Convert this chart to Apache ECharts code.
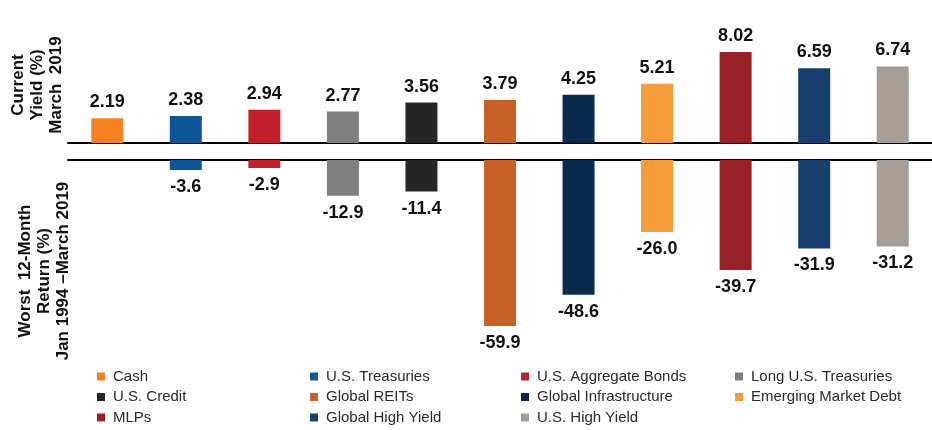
<!DOCTYPE html>
<html>
<head>
<meta charset="utf-8">
<script src="https://cdn.jsdelivr.net/npm/echarts@6/dist/echarts.min.js"></script>
<style>
html,body{margin:0;padding:0;background:#fff;}
#chart{width:932px;height:430px;}
</style>
</head>
<body>
<div id="chart"></div>
<script>
const categories = ['Cash','U.S. Treasuries','U.S. Aggregate Bonds','Long U.S. Treasuries','U.S. Credit','Global REITs','Global Infrastructure','Emerging Market Debt','MLPs','Global High Yield','U.S. High Yield'];
const currentYield = [2.19, 2.38, 2.94, 2.77, 3.56, 3.79, 4.25, 5.21, 8.02, 6.59, 6.74];
const worstReturn = [null, -3.6, -2.9, -12.9, -11.4, -59.9, -48.6, -26.0, -39.7, -31.9, -31.2];
const colors = ['#F58220','#0D5697','#C1202A','#808080','#262626','#C86028','#0B2A4C','#F69B3A','#9A2027','#163F6E','#A69D97'];
const topTitle = 'Current\nYield (%)\nMarch  2019';
const bottomTitle = 'Worst  12-Month\nReturn (%)\nJan 1994 \u2013March 2019';

const FONT = '"Liberation Sans", Arial, sans-serif';
const chart = echarts.init(document.getElementById('chart'));

const series = [];
categories.forEach((cat, i) => {
  series.push({
    name: cat, type: 'bar', xAxisIndex: 0, yAxisIndex: 0,
    barWidth: 32, barGap: '-100%',
    data: categories.map((c, j) => j === i ? currentYield[i] : '-'),
    itemStyle: { color: colors[i] },
    label: { show: true, position: 'top', distance: 7, fontFamily: FONT, fontSize: 18, fontWeight: 'bold', color: '#111',
      formatter: p => Number(p.value).toFixed(2) }
  });
  series.push({
    name: cat, type: 'bar', xAxisIndex: 1, yAxisIndex: 1,
    barWidth: 32, barGap: '-100%',
    data: categories.map((c, j) => (j === i && worstReturn[i] !== null) ? worstReturn[i] : '-'),
    itemStyle: { color: colors[i] },
    label: { show: true, position: 'bottom', distance: 8, fontFamily: FONT, fontSize: 18, fontWeight: 'bold', color: '#111',
      formatter: p => Number(p.value).toFixed(1) }
  });
});

const colLeft = [97, 310, 521, 735];
const legends = colLeft.map((left, k) => ({
  orient: 'vertical', left: left, top: 369, padding: 0,
  itemWidth: 8, itemHeight: 8, itemGap: 5.5, icon: 'rect',
  data: categories.filter((c, j) => j % 4 === k),
  textStyle: { fontFamily: FONT, fontSize: 15, color: '#2a2a2a', padding: [0, 0, 0, 3] }
}));

const axisLine = { show: true, onZero: false, lineStyle: { color: '#000', width: 2 } };

chart.setOption({
  animation: false,
  backgroundColor: '#fff',
  textStyle: { fontFamily: FONT },
  legend: legends,
  grid: [
    { left: 68, width: 873, top: 29.5, height: 113.5 },
    { left: 68, width: 873, top: 160, height: 194 }
  ],
  xAxis: [
    { type: 'category', gridIndex: 0, data: categories, position: 'bottom', axisLine: axisLine, axisTick: { show: false }, axisLabel: { show: false }, splitLine: { show: false } },
    { type: 'category', gridIndex: 1, data: categories, position: 'top', axisLine: axisLine, axisTick: { show: false }, axisLabel: { show: false }, splitLine: { show: false } }
  ],
  yAxis: [
    { type: 'value', gridIndex: 0, min: 0, max: 10, show: false },
    { type: 'value', gridIndex: 1, min: -70, max: 0, show: false }
  ],
  graphic: [
    { type: 'text', x: 37, y: 85, rotation: Math.PI / 2,
      style: { text: topTitle, font: 'bold 17px ' + FONT, fill: '#111', align: 'center', verticalAlign: 'middle', textAlign: 'center', textVerticalAlign: 'middle', lineHeight: 19 } },
    { type: 'text', x: 44, y: 271, rotation: Math.PI / 2,
      style: { text: bottomTitle, font: 'bold 17px ' + FONT, fill: '#111', align: 'center', verticalAlign: 'middle', textAlign: 'center', textVerticalAlign: 'middle', lineHeight: 19 } }
  ],
  series: series
});
</script>
</body>
</html>
